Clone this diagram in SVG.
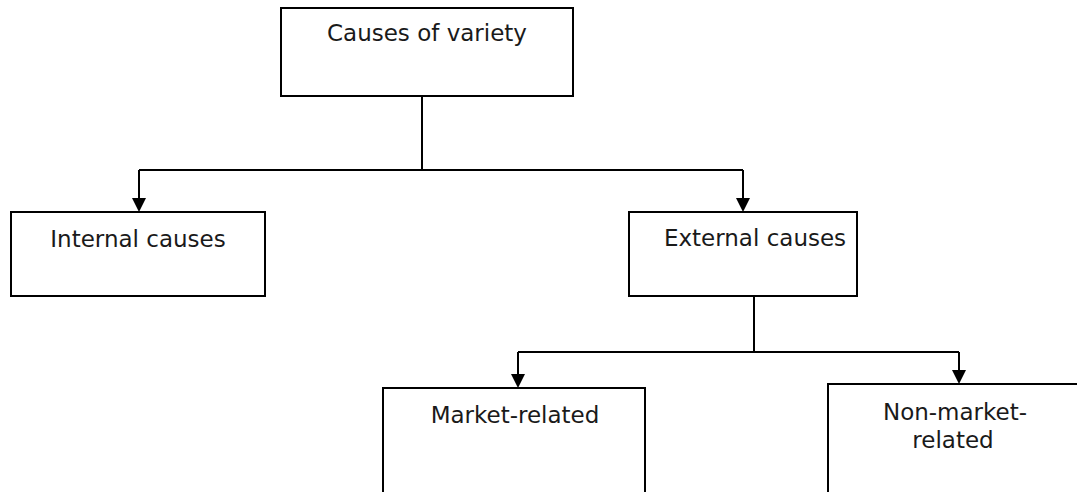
<svg xmlns="http://www.w3.org/2000/svg" width="1077" height="492" viewBox="0 0 1077 492">
  <style>
    .box { fill: #ffffff; stroke: #000000; stroke-width: 2; }
    .lbl { font-family: "DejaVu Sans", "Liberation Sans", sans-serif; font-size: 23px; fill: #1a1a1a; text-anchor: middle; }
    .wire { fill: none; stroke: #000000; stroke-width: 2; }
  </style>
  <defs>
    <marker id="head" markerUnits="userSpaceOnUse" markerWidth="16" markerHeight="16" viewBox="0 0 14 14" refX="7" refY="14" orient="auto-start-reverse">
      <path d="M0,0 L14,0 L7,14 Z" fill="#000000"/>
    </marker>
  </defs>
  <rect width="1077" height="492" fill="#ffffff"/>

  <g id="connectors">
    <!-- root to first level -->
    <path class="wire" d="M422,96 V170"/>
    <path class="wire" d="M139,170 H743"/>
    <path class="wire" d="M139,170 V198"/>
    <path class="wire" d="M743,170 V198"/>
    <polygon points="132,198 146,198 139,212" fill="#000000"/>
    <polygon points="736,198 750,198 743,212" fill="#000000"/>
    <!-- external causes to second level -->
    <path class="wire" d="M754,296 V352"/>
    <path class="wire" d="M518,352 H959"/>
    <path class="wire" d="M518,352 V374"/>
    <path class="wire" d="M959,352 V370"/>
    <polygon points="511,374 525,374 518,388" fill="#000000"/>
    <polygon points="952,370 966,370 959,384" fill="#000000"/>
  </g>

  <g id="causes-of-variety">
    <rect class="box" x="281" y="8" width="292" height="88"/>
    <text class="lbl" x="427" y="41">Causes of variety</text>
  </g>

  <g id="internal-causes">
    <rect class="box" x="11" y="212" width="254" height="84"/>
    <text class="lbl" x="138" y="247">Internal causes</text>
  </g>

  <g id="external-causes">
    <rect class="box" x="629" y="212" width="228" height="84"/>
    <text class="lbl" x="755" y="246">External causes</text>
  </g>

  <g id="market-related">
    <rect class="box" x="383" y="388" width="262" height="120"/>
    <text class="lbl" x="515" y="423">Market-related</text>
  </g>

  <g id="non-market-related">
    <rect class="box" x="828" y="384" width="270" height="124"/>
    <text class="lbl" x="955" y="420">Non-market-</text>
    <text class="lbl" x="953" y="448">related</text>
  </g>
</svg>
